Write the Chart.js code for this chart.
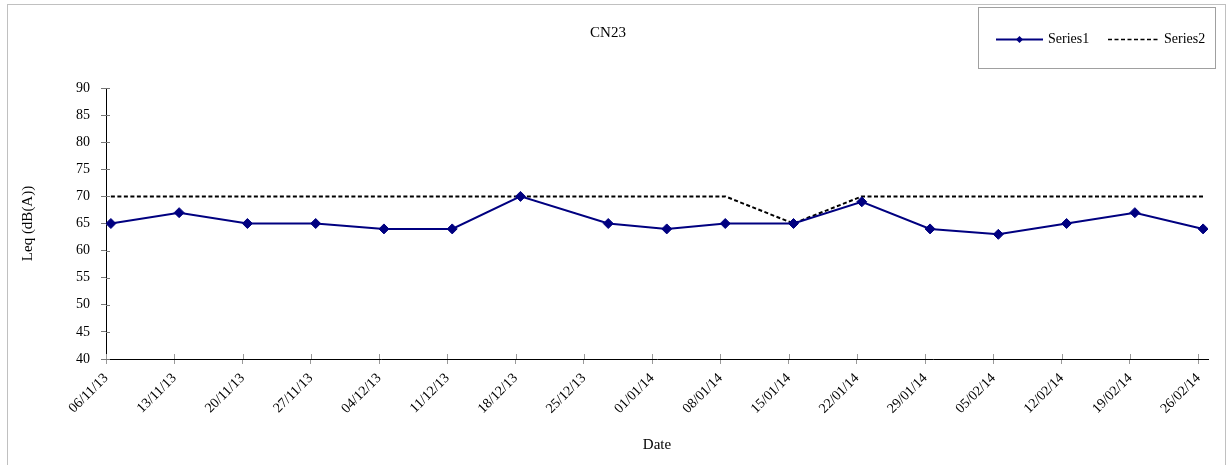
<!DOCTYPE html>
<html>
<head>
<meta charset="utf-8">
<script src="https://cdn.jsdelivr.net/npm/chart.js@4/dist/chart.umd.min.js"></script>
<style>
  html, body { margin: 0; padding: 0; background: #fff; }
  #wrap { position: relative; width: 1228px; height: 465px; }
</style>
</head>
<body>
<div id="wrap"><canvas id="c"></canvas></div>
<script>
// ---- data ----
const chartTitle = 'CN23';
const xTitle = 'Date';
const yTitle = 'Leq (dB(A))';
const seriesNames = ['Series1', 'Series2'];
const sampleDates = ['06/11/13','13/11/13','20/11/13','27/11/13','04/12/13','11/12/13','18/12/13','27/12/13','02/01/14','08/01/14','15/01/14','22/01/14','29/01/14','05/02/14','12/02/14','19/02/14','26/02/14'];
const series1 = [65, 67, 65, 65, 64, 64, 70, 65, 64, 65, 65, 69, 64, 63, 65, 67, 64];
const series2 = [70, 70, 70, 70, 70, 70, 70, 70, 70, 70, 65, 70, 70, 70, 70, 70, 70];
const tickLabels = ['06/11/13','13/11/13','20/11/13','27/11/13','04/12/13','11/12/13','18/12/13','25/12/13','01/01/14','08/01/14','15/01/14','22/01/14','29/01/14','05/02/14','12/02/14','19/02/14','26/02/14'];
const yTicks = { min: 40, max: 90, step: 5 };

// ---- helpers ----
function dayNum(s) {
  const [d, m, y] = s.split('/').map(Number);
  return Date.UTC(2000 + y, m - 1, d) / 86400000;
}
const base = dayNum(tickLabels[0]);
const tickPos = tickLabels.map(t => dayNum(t) - base);
const labelByPos = {};
tickLabels.forEach((t, i) => { labelByPos[tickPos[i]] = t; });
// each day occupies one slot; the point sits in the middle of its day
const pts = (vals) => vals.map((v, i) => ({ x: dayNum(sampleDates[i]) - base + 0.5, y: v }));

const FONT = "'Liberation Serif', 'Times New Roman', serif";

const frame = {
  id: 'frame',
  beforeDraw(chart) {
    const ctx = chart.ctx;
    ctx.save();
    ctx.strokeStyle = '#c0c0c0';
    ctx.lineWidth = 1;
    ctx.strokeRect(7.5, 4.5, 1218, 470);
    ctx.restore();
  }
};

// tick marks that cross the axis line (inner half)
const crossTicks = {
  id: 'crossTicks',
  beforeDatasetsDraw(chart) {
    const ctx = chart.ctx;
    const { left, bottom } = chart.chartArea;
    const xs = chart.scales.x, ys = chart.scales.y;
    ctx.save();
    ctx.lineWidth = 1;
    ctx.strokeStyle = '#999';
    xs.ticks.forEach(t => {
      const px = Math.round(xs.getPixelForValue(t.value)) + 0.5;
      ctx.beginPath(); ctx.moveTo(px, bottom); ctx.lineTo(px, bottom - 5); ctx.stroke();
    });
    ctx.strokeStyle = '#777';
    ys.ticks.forEach(t => {
      const py = Math.round(ys.getPixelForValue(t.value)) + 0.5;
      ctx.beginPath(); ctx.moveTo(left, py); ctx.lineTo(left + 4, py); ctx.stroke();
    });
    ctx.restore();
  }
};

const boxLegend = {
  id: 'boxLegend',
  afterDraw(chart) {
    const ctx = chart.ctx;
    const ds = chart.data.datasets;
    ctx.save();
    ctx.strokeStyle = '#a0a0a0';
    ctx.lineWidth = 1;
    ctx.strokeRect(978.5, 7.5, 237, 61);
    const y = 39.5;
    // series 1
    ctx.strokeStyle = ds[0].borderColor;
    ctx.lineWidth = 2;
    ctx.beginPath(); ctx.moveTo(996, y); ctx.lineTo(1043, y); ctx.stroke();
    ctx.fillStyle = ds[0].borderColor;
    ctx.beginPath();
    ctx.moveTo(1019.5, y - 3.5); ctx.lineTo(1023, y); ctx.lineTo(1019.5, y + 3.5); ctx.lineTo(1016, y);
    ctx.closePath(); ctx.fill();
    // series 2
    ctx.strokeStyle = ds[1].borderColor;
    ctx.lineWidth = 1.5;
    ctx.setLineDash([4, 2.5]);
    ctx.beginPath(); ctx.moveTo(1108, y); ctx.lineTo(1160, y); ctx.stroke();
    ctx.setLineDash([]);
    ctx.fillStyle = '#000';
    ctx.font = '14px ' + FONT;
    ctx.textBaseline = 'middle';
    ctx.textAlign = 'left';
    ctx.fillText(ds[0].label, 1048, y);
    ctx.fillText(ds[1].label, 1164, y);
    ctx.restore();
  }
};

new Chart(document.getElementById('c'), {
  type: 'line',
  data: {
    datasets: [
      {
        label: seriesNames[0],
        data: pts(series1),
        borderColor: '#000080',
        backgroundColor: '#000080',
        borderWidth: 2,
        pointStyle: 'rectRot',
        pointRadius: 5,
        pointBorderWidth: 1,
        pointBackgroundColor: '#000080',
        pointBorderColor: '#000080',
        tension: 0,
        fill: false
      },
      {
        label: seriesNames[1],
        data: pts(series2),
        borderColor: '#000000',
        backgroundColor: '#000000',
        borderWidth: 2,
        borderDash: [4, 2.5],
        pointRadius: 0,
        tension: 0,
        fill: false
      }
    ]
  },
  options: {
    responsive: true,
    maintainAspectRatio: false,
    animation: false,
    events: [],
    layout: { padding: { left: 8, right: 20, top: 0, bottom: 0 } },
    plugins: {
      legend: { display: false },
      tooltip: { enabled: false },
      title: {
        display: true,
        text: chartTitle,
        color: '#000',
        font: { family: FONT, size: 15, weight: 'normal' },
        padding: { top: 24, bottom: 46 }
      }
    },
    scales: {
      x: {
        type: 'linear',
        min: 0,
        max: tickPos[tickPos.length - 1] + 1,
        afterBuildTicks(s) { s.ticks = tickPos.map(v => ({ value: v })); },
        afterFit(s) { s.height = 106; s.paddingLeft = 0; s.paddingRight = 0; },
        ticks: {
          autoSkip: false,
          minRotation: 45,
          maxRotation: 45,
          padding: 6,
          color: '#000',
          font: { family: FONT, size: 14 },
          callback: (v) => labelByPos[v]
        },
        grid: { drawOnChartArea: false, drawTicks: true, tickLength: 5, color: '#999' },
        border: { display: true, color: '#000', width: 1 },
        title: {
          display: true,
          text: xTitle,
          color: '#000',
          font: { family: FONT, size: 15 },
          padding: { top: 4, bottom: 11 }
        }
      },
      y: {
        min: yTicks.min,
        max: yTicks.max,
        afterFit(s) { s.width = 98; },
        ticks: {
          stepSize: yTicks.step,
          padding: 11,
          color: '#000',
          font: { family: FONT, size: 14 }
        },
        grid: { drawOnChartArea: false, drawTicks: true, tickLength: 5, color: '#777' },
        border: { display: true, color: '#000', width: 1 },
        title: {
          display: true,
          text: yTitle,
          color: '#000',
          font: { family: FONT, size: 15 },
          padding: { top: 11, bottom: 4 }
        }
      }
    }
  },
  plugins: [frame, crossTicks, boxLegend]
});
</script>
</body>
</html>
